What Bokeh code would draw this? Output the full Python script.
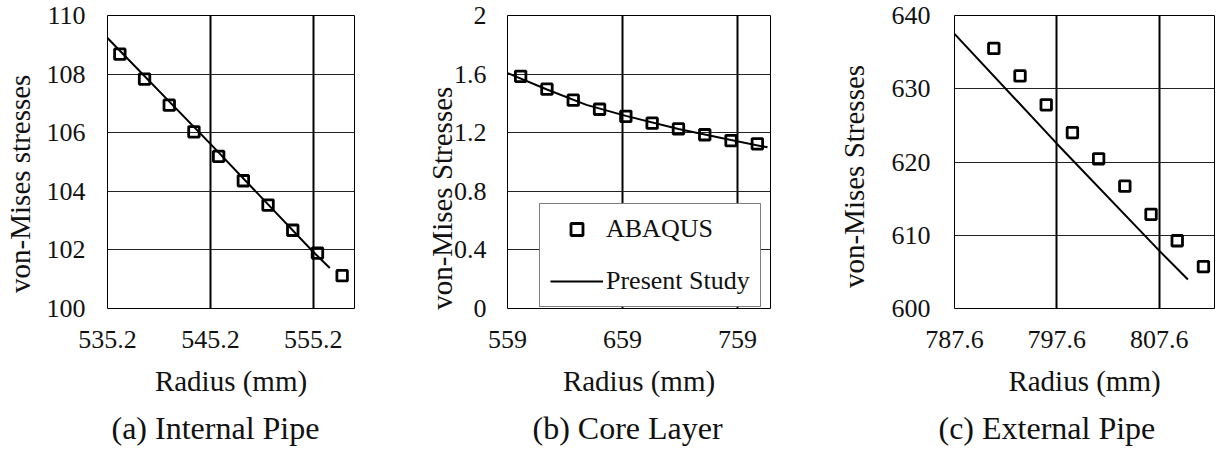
from bokeh.plotting import figure
from bokeh.layouts import row
from bokeh.models import FixedTicker, Title, Legend, LegendItem, Range1d
from bokeh.embed import file_html
from bokeh.resources import INLINE

FONT = "'Liberation Serif', 'Times New Roman', 'DejaVu Serif', serif"
NB = "\u00a0"

# ---------------- data ----------------
# (a) Internal Pipe
a_r_abaqus = [536.4, 538.8, 541.2, 543.6, 546.0, 548.4, 550.8, 553.2, 555.6, 558.0]
a_s_abaqus = [108.68, 107.83, 106.94, 106.03, 105.19, 104.36, 103.53, 102.67, 101.89, 101.12]
a_r_study = [535.2, 545.2, 555.2, 556.8]
a_s_study = [109.23, 105.62, 101.93, 101.38]
a_xticks = [535.2, 545.2, 555.2]
a_yticks = [100, 102, 104, 106, 108, 110]

# (b) Core Layer
b_r_abaqus = [570.43, 593.29, 616.15, 639.01, 661.87, 684.73, 707.59, 730.45, 753.31, 776.17]
b_s_abaqus = [1.585, 1.497, 1.422, 1.360, 1.312, 1.265, 1.226, 1.186, 1.146, 1.124]
b_r_study = [559.0, 593.3, 627.6, 661.9, 707.6, 753.3, 785.0]
b_s_study = [1.607, 1.495, 1.390, 1.315, 1.225, 1.150, 1.100]
b_xticks = [559, 659, 759]
b_yticks = [0, 0.4, 0.8, 1.2, 1.6, 2]
b_ylabels = ["0", "0.4", "0.8", "1.2", "1.6", "2"]

# (c) External Pipe
c_r_abaqus = [791.44, 794.00, 796.56, 799.12, 801.68, 804.24, 806.80, 809.36, 811.92]
c_s_abaqus = [635.5, 631.75, 627.8, 624.0, 620.44, 616.7, 612.86, 609.25, 605.73]
c_r_study = [787.6, 797.6, 807.6, 810.4]
c_s_study = [637.5, 622.5, 607.9, 603.95]
c_xticks = [787.6, 797.6, 807.6]
c_yticks = [600, 610, 620, 630, 640]

TXT = "#111111"
H = 453
TOP = 15
BOTTOM = 311


def panel(xr, yr, xticks, yticks, ylabel, caption, r_ab, s_ab, r_st, s_st,
          bl, fw, br, ystand, ylab_stand, cap_off, ylabels=None):
    p = figure(width=bl + fw + br, height=H, output_backend="svg",
               toolbar_location=None, x_range=Range1d(*xr), y_range=Range1d(*yr),
               min_border_left=bl, min_border_right=br, min_border_top=TOP,
               min_border_bottom=H - BOTTOM, background_fill_color="white",
               border_fill_color="white")
    p.outline_line_color = "black"
    p.outline_line_width = 1
    xt = FixedTicker(ticks=xticks)
    yt = FixedTicker(ticks=yticks)
    p.xaxis.ticker = xt
    p.yaxis.ticker = yt
    p.xgrid.ticker = xt
    p.ygrid.ticker = yt
    p.xgrid.grid_line_color = "black"
    p.xgrid.grid_line_width = 2
    p.ygrid.grid_line_color = "#222222"
    p.ygrid.grid_line_width = 1
    if ylabels is not None:
        p.yaxis.major_label_overrides = {t: l for t, l in zip(yticks, ylabels)}
    for ax in (p.xaxis[0], p.yaxis[0]):
        ax.axis_line_color = None
        ax.major_tick_line_color = None
        ax.minor_tick_line_color = None
        ax.major_tick_out = 0
        ax.major_tick_in = 0
        ax.major_label_text_font = FONT
        ax.major_label_text_font_size = "26px"
        ax.major_label_text_color = TXT
        ax.axis_label_text_font = FONT
        ax.axis_label_text_font_size = "29px"
        ax.axis_label_text_font_style = "normal"
        ax.axis_label_text_color = TXT
    p.xaxis.axis_label = "Radius (mm)"
    p.yaxis.axis_label = ylabel
    p.xaxis.major_label_standoff = 22
    p.xaxis.axis_label_standoff = 14
    p.yaxis.major_label_standoff = ystand
    p.yaxis.axis_label_standoff = ylab_stand

    ln = p.line(r_st, s_st, line_color="black", line_width=2)
    mk = p.scatter(r_ab, s_ab, marker="square", size=10.5, line_color="black",
                   line_width=2.8, fill_color=None)
    t = Title(text=caption, align="left", offset=cap_off, text_font=FONT,
              text_font_size="32px", text_font_style="normal", text_color=TXT,
              standoff=16)
    p.add_layout(t, "below")
    return p, mk, ln


# trailing no-break spaces shift the rotated y titles downward as in the original
pa, _, _ = panel((535.2, 559.2), (100, 110), a_xticks, a_yticks,
                 "von-Mises stresses" + NB * 6,
                 "(a)  Internal Pipe", a_r_abaqus, a_s_abaqus, a_r_study, a_s_study,
                 bl=103, fw=251, br=58, ystand=22, ylab_stand=8, cap_off=4)
pb, mkb, lnb = panel((559, 787.6), (0, 2), b_xticks, b_yticks,
                     "von-Mises Stresses" + NB * 10,
                     "(b)  Core Layer", b_r_abaqus, b_s_abaqus, b_r_study, b_s_study,
                     bl=95, fw=263, br=64, ystand=21, ylab_stand=-7, cap_off=25,
                     ylabels=b_ylabels)
pc, _, _ = panel((787.6, 813.0), (600, 640), c_xticks, c_yticks,
                 "von-Mises Stresses" + NB * 4,
                 "(c)  External Pipe", c_r_abaqus, c_s_abaqus, c_r_study, c_s_study,
                 bl=115, fw=265, br=2, ystand=24, ylab_stand=19, cap_off=-16)

legend = Legend(items=[LegendItem(label="ABAQUS", renderers=[mkb]),
                       LegendItem(label="Present Study", renderers=[lnb])],
                location=(32, 1), margin=0, padding=10, spacing=22,
                glyph_width=53, glyph_height=30, label_height=30, label_standoff=3,
                label_text_font=FONT, label_text_font_size="26px", label_text_color=TXT,
                border_line_color="black", border_line_width=1,
                background_fill_color="white", background_fill_alpha=1)
pb.add_layout(legend, "center")

layout = row(pa, pb, pc)
open("out.html", "w").write(file_html(layout, INLINE))
